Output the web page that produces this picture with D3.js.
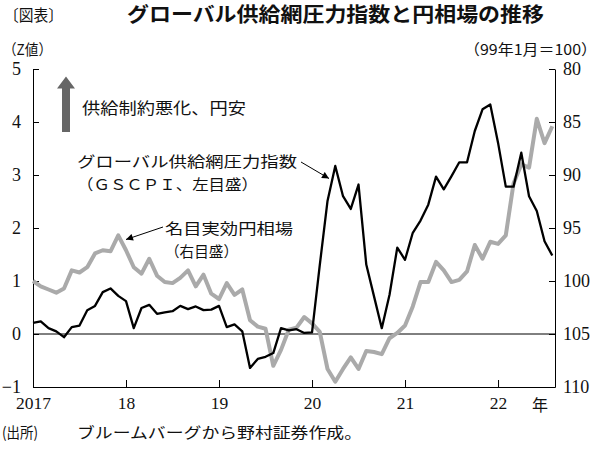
<!DOCTYPE html>
<html><head><meta charset="utf-8">
<script src="https://cdn.jsdelivr.net/npm/d3@7/dist/d3.min.js"></script>
<style>
body{margin:0;background:#fff}
svg{display:block}
.jp{font-family:"Noto Sans CJK JP","Noto Sans",sans-serif}
.num{font-family:"Liberation Serif","DejaVu Serif",serif}
</style>
</head><body>
<svg id="c" width="600" height="455"></svg>
<script>
// ---- data (monthly, Jan 2017 – Aug 2022) ----
const gscpi2017 = [0.21, 0.24, 0.11, 0.05, -0.06, 0.13, 0.16, 0.45, 0.53, 0.79, 0.86, 0.72];
const gscpi2018 = [0.62, 0.11, 0.49, 0.55, 0.38, 0.41, 0.43, 0.53, 0.47, 0.52, 0.45, 0.46];
const gscpi2019 = [0.53, 0.13, 0.18, 0.05, -0.64, -0.47, -0.43, -0.36, 0.11, 0.07, 0.09, 0.02];
const gscpi2020 = [0.03, 1.30, 2.51, 3.17, 2.60, 2.36, 2.82, 1.31, 0.71, 0.11, 0.74, 1.63];
const gscpi2021 = [1.40, 1.91, 2.14, 2.44, 2.97, 2.73, 2.98, 3.24, 3.24, 3.83, 4.24, 4.33];
const gscpi2022 = [3.61, 2.78, 2.78, 3.42, 2.60, 2.32, 1.75, 1.48];

const yen2017 = [100.0, 100.5, 100.8, 101.1, 100.7, 99.0, 99.2, 98.7, 97.4, 97.1, 97.2, 95.7];
const yen2018 = [97.1, 98.7, 99.3, 97.9, 99.5, 100.1, 100.2, 99.7, 99.0, 100.5, 99.4, 101.2];
const yen2019 = [101.7, 100.2, 101.3, 100.8, 103.7, 104.3, 104.5, 108.0, 106.5, 104.6, 104.4, 103.4];
const yen2020 = [104.0, 104.8, 108.3, 109.5, 108.3, 107.2, 108.3, 106.6, 106.7, 106.9, 105.4, 104.9];
const yen2021 = [104.2, 102.4, 100.1, 100.1, 98.2, 99.0, 100.1, 99.9, 99.1, 96.6, 97.9, 96.3];
const yen2022 = [96.5, 95.7, 90.8, 89.0, 89.3, 84.7, 87.0, 85.4];

const gscpi = [].concat(gscpi2017, gscpi2018, gscpi2019, gscpi2020, gscpi2021, gscpi2022);
const yen = [].concat(yen2017, yen2018, yen2019, yen2020, yen2021, yen2022);

const yearTicks = [0, 12, 24, 36, 48, 60];           // month index of each January
const yearLabels = ["2017", "18", "19", "20", "21", "22"];
const leftTicks = [-1, 0, 1, 2, 3, 4, 5];
const rightTicks = [80, 85, 90, 95, 100, 105, 110];

// ---- layout ----
const svg = d3.select("#c");
const L = 33, R = 555, T = 69, B = 387;
const x = d3.scaleLinear().domain([0, 67.35]).range([L, R]);
const yL = d3.scaleLinear().domain([-1, 5]).range([B, T]);
const yR = d3.scaleLinear().domain([110, 80]).range([B, T]);

function styleAxis(g){
  g.select(".domain").attr("stroke","#000").attr("stroke-width",1);
  g.selectAll(".tick line").attr("stroke","#000").attr("stroke-width",1);
  g.selectAll(".tick text").attr("fill","#111").attr("class","num").style("font-size","18px");
}

// left axis
svg.append("g").attr("transform",`translate(${L},0)`)
  .call(d3.axisLeft(yL).tickValues(leftTicks).tickFormat(d3.format("d"))
        .tickSizeInner(-6).tickSizeOuter(0).tickPadding(12))
  .call(styleAxis)
  .call(g=>g.selectAll(".tick text").attr("font-family",null).attr("font-size",null));

// right axis
svg.append("g").attr("transform",`translate(${R},0)`)
  .call(d3.axisRight(yR).tickValues(rightTicks).tickFormat(d3.format("d"))
        .tickSizeInner(-6).tickSizeOuter(0).tickPadding(8))
  .call(styleAxis);

// bottom axis
svg.append("g").attr("transform",`translate(0,${B})`)
  .call(d3.axisBottom(x).tickValues(yearTicks).tickFormat((d,i)=>yearLabels[i])
        .tickSizeInner(-7).tickSizeOuter(0).tickPadding(10))
  .call(styleAxis)
  .call(g=>g.selectAll(".tick text").style("font-size","17.5px"));

// zero line
svg.append("line").attr("x1",L).attr("x2",R).attr("y1",yL(0)).attr("y2",yL(0))
  .attr("stroke","#000").attr("stroke-width",1);

// year unit
svg.append("text").attr("class","jp").attr("x",540).attr("y",yL(-1)+24)
  .attr("text-anchor","middle").style("font-size","16px").attr("fill","#111").text("年");

// lines
const lineYen = d3.line().x((d,i)=>x(i)).y(d=>yR(d)).curve(d3.curveLinear);
const lineG = d3.line().x((d,i)=>x(i)).y(d=>yL(d)).curve(d3.curveLinear);

svg.append("path").datum(yen).attr("d",lineYen).attr("fill","none")
  .attr("stroke","#aaaaaa").attr("stroke-width",4).attr("stroke-linejoin","round");
svg.append("path").datum(gscpi).attr("d",lineG).attr("fill","none")
  .attr("stroke","#000").attr("stroke-width",2.3).attr("stroke-linejoin","round");

// ---- texts ----
function jp(txt, xx, yy, size, len, opts={}){
  const t = svg.append("text").attr("class","jp").attr("x",xx).attr("y",yy)
    .style("font-size",size+"px").attr("fill", opts.fill||"#111").text(txt);
  if (opts.weight) t.style("font-weight",opts.weight);
  if (len) t.attr("textLength",len).attr("lengthAdjust","spacingAndGlyphs");
  if (opts.anchor) t.attr("text-anchor",opts.anchor);
  return t;
}
jp("〔図表〕", 4, 21, 16, 59);
jp("グローバル供給網圧力指数と円相場の推移", 127, 22, 20, 417, {weight:700});
jp("（Z値）", 3, 55, 15, 49);
jp("（99年1月＝100）", 464, 55, 15, 133);

jp("供給制約悪化、円安", 82, 114, 16, 164);
jp("グローバル供給網圧力指数", 77, 167, 15, 220);
jp("（ＧＳＣＰＩ、左目盛）", 77, 190, 15, 181);
jp("名目実効円相場", 165, 234, 15, 128);
jp("（右目盛）", 165, 257, 15, 73);

jp("(出所)", 2, 438, 15, 36);
jp("ブルームバーグから野村証券作成。", 77, 438, 15, 285);

// big up arrow
svg.append("path")
  .attr("d","M66,76.5 L75,88.5 L70,88.5 L70,132 L62,132 L62,88.5 L57,88.5 Z")
  .attr("fill","#666");

// annotation arrows
const defs = svg.append("defs");
defs.append("marker").attr("id","ah").attr("viewBox","0 0 10 10").attr("refX",10).attr("refY",5)
  .attr("markerWidth",9).attr("markerHeight",7).attr("markerUnits","userSpaceOnUse").attr("orient","auto")
  .append("path").attr("d","M0,0 L10,5 L0,10 Z").attr("fill","#000");
svg.append("line").attr("x1",301).attr("y1",162).attr("x2",329).attr("y2",178.5)
  .attr("stroke","#000").attr("stroke-width",1).attr("marker-end","url(#ah)");
svg.append("line").attr("x1",163).attr("y1",227).attr("x2",126).attr("y2",239.5)
  .attr("stroke","#000").attr("stroke-width",1).attr("marker-end","url(#ah)");
</script>
</body></html>
